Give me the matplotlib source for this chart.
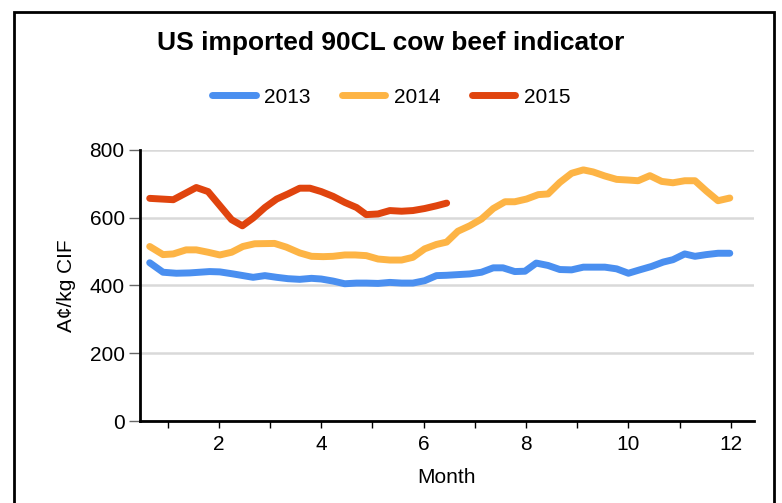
import matplotlib.pyplot as plt
from matplotlib.patches import Rectangle
from matplotlib.ticker import MultipleLocator

plt.rcParams['font.family'] = ['Liberation Sans', 'DejaVu Sans']

# 2013 series (month position, A c/kg)
m2013 = [0.65, 0.91, 1.17, 1.43, 1.82, 2.02, 2.28, 2.67, 2.90, 3.13, 3.35, 3.58, 3.81,
         4.00, 4.23, 4.46, 4.69, 4.88, 5.11, 5.34, 5.57, 5.79, 6.02, 6.25, 6.45, 6.67,
         6.90, 7.13, 7.36, 7.55, 7.78, 7.98, 8.20, 8.43, 8.66, 8.89, 9.12, 9.54, 9.77,
         10.00, 10.22, 10.45, 10.68, 10.87, 11.10, 11.30, 11.52, 11.75, 11.98]
v2013 = [467, 439, 436, 437, 441, 440, 434, 424, 429, 424, 420, 418, 421,
         419, 413, 405, 407, 407, 406, 409, 407, 407, 414, 429, 430, 432,
         434, 439, 452, 452, 441, 442, 466, 459, 447, 446, 454, 454, 449,
         436, 446, 456, 469, 476, 493, 486, 491, 495, 495]

# 2014 series
m2014 = [0.65, 0.91, 1.11, 1.36, 1.56, 1.79, 2.02, 2.25, 2.47, 2.70, 3.09, 3.32, 3.58,
         3.81, 4.04, 4.23, 4.46, 4.66, 4.88, 5.11, 5.34, 5.57, 5.79, 6.02, 6.25, 6.45,
         6.67, 6.90, 7.13, 7.36, 7.59, 7.78, 8.01, 8.24, 8.43, 8.66, 8.89, 9.12, 9.31,
         9.54, 9.77, 10.00, 10.19, 10.42, 10.65, 10.87, 11.10, 11.30, 11.52, 11.75, 11.98]
v2014 = [515, 491, 493, 505, 505, 498, 490, 498, 515, 523, 524, 513, 496,
         486, 485, 486, 490, 490, 488, 478, 475, 475, 483, 508, 521, 528,
         560, 576, 596, 627, 647, 647, 655, 668, 670, 704, 731, 741, 735,
         723, 713, 711, 709, 724, 707, 703, 709, 709, 679, 650, 658]

# 2015 series
m2015 = [0.65, 1.11, 1.56, 1.79, 2.25, 2.46, 2.67, 2.90, 3.13, 3.35, 3.58, 3.78,
         4.00, 4.23, 4.46, 4.69, 4.88, 5.11, 5.34, 5.57, 5.79, 6.02, 6.25, 6.45]
v2015 = [657, 653, 689, 677, 594, 576, 599, 630, 655, 670, 687, 687,
         677, 663, 645, 630, 609, 611, 621, 619, 621, 627, 635, 643]

fig = plt.figure(figsize=(7.82, 5.03), dpi=100)
ax = fig.add_axes([0.179, 0.163, 0.785, 0.539])

lw = 5
ax.plot(m2013, v2013, color='#4a8ff0', lw=lw, label='2013', solid_capstyle='round', solid_joinstyle='round')
ax.plot(m2014, v2014, color='#fdb445', lw=lw, label='2014', solid_capstyle='round', solid_joinstyle='round')
ax.plot(m2015, v2015, color='#e0440e', lw=lw, label='2015', solid_capstyle='round', solid_joinstyle='round')

ax.set_xlim(0.46, 12.45)
ax.set_ylim(0, 800)
ax.set_yticks([0, 200, 400, 600, 800])
ax.xaxis.set_major_locator(MultipleLocator(2))
ax.xaxis.set_minor_locator(MultipleLocator(1))
ax.grid(axis='y', color='#d9d9d9', lw=1.8)
ax.set_axisbelow(True)
for s in ['top', 'right']:
    ax.spines[s].set_visible(False)
for s in ['left', 'bottom']:
    ax.spines[s].set_linewidth(2)
ax.tick_params(axis='y', length=8, width=1, color='#666666', labelsize=15, pad=3)
ax.tick_params(axis='x', which='major', length=5, width=1, labelsize=15, pad=5)
ax.tick_params(axis='x', which='minor', length=5, width=1)

ax.set_xlabel('Month', fontsize=15, labelpad=10)
ax.set_ylabel('A¢/kg CIF', fontsize=15, labelpad=10)

fig.text(0.5, 0.915, 'US imported 90CL cow beef indicator', ha='center', va='center',
         fontsize=19, fontweight='bold')
fig.legend(loc='center', bbox_to_anchor=(0.5, 0.807), ncol=3, frameon=False,
           fontsize=15, handlelength=2.1, columnspacing=1.5, handletextpad=0.4)

fig.patches.append(Rectangle((0.018, -0.05), 0.972, 1.026, transform=fig.transFigure,
                             fill=False, edgecolor='black', lw=2))

fig.savefig('out.png', dpi=100)
